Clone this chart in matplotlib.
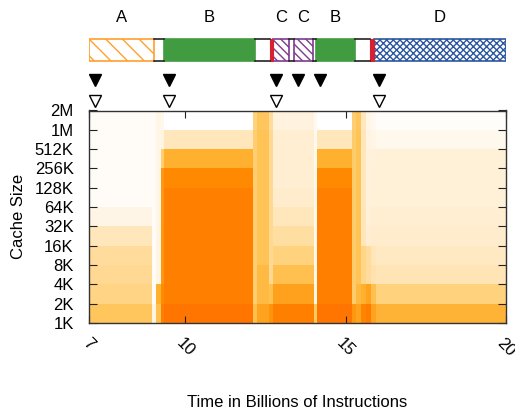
import numpy as np
import matplotlib
matplotlib.use("Agg")
import matplotlib.pyplot as plt
from matplotlib.colors import LinearSegmentedColormap
from matplotlib.patches import Rectangle

plt.rcParams['font.family'] = ['Liberation Sans', 'DejaVu Sans']
plt.rcParams['hatch.linewidth'] = 1.0

# cache sizes, bottom to top
size_labels = ['1K', '2K', '4K', '8K', '16K', '32K', '64K', '128K', '256K', '512K', '1M', '2M']

# phases shown in the strip above the heat map (billions of instructions)
phase_names = ['A', 'B', 'C', 'C', 'B', 'D']
phase_start = [7.0, 9.34, 12.75, 13.38, 14.09, 15.88]
phase_end = [9.03, 12.16, 13.25, 13.97, 15.28, 20.0]
red_start = [12.63, 15.75]
red_end = [12.75, 15.88]

filled_marks = [7.19, 9.5, 12.84, 13.5, 14.19, 16.03]
open_marks = [7.19, 9.5, 12.84, 16.03]

# relative miss intensity per cache size (1K .. 1M), one list per time slice
a_rows = [0.56, 0.46, 0.42, 0.40, 0.30, 0.13, 0.04, 0.04, 0.04, 0.04, 0.04]
b_rows = [0.95, 0.90, 0.90, 0.90, 0.90, 0.90, 0.90, 0.86, 0.70, 0.30, 0.00]
c_rows = [0.90, 0.76, 0.60, 0.48, 0.38, 0.30, 0.24, 0.22, 0.22, 0.22, 0.17]
d_rows = [0.68, 0.48, 0.32, 0.27, 0.24, 0.22, 0.20, 0.20, 0.20, 0.10, 0.03]

t1_rows = [0.15, 0.05, 0.05, 0.05, 0.05, 0.05, 0.05, 0.05, 0.05, 0.05, 0.05]
t2_rows = [0.60, 0.70, 0.14, 0.14, 0.14, 0.12, 0.12, 0.12, 0.12, 0.12, 0.12]
t3_rows = [0.90, 0.85, 0.80, 0.80, 0.80, 0.80, 0.80, 0.80, 0.50, 0.15, 0.10]
t4_rows = [0.60, 0.50, 0.50, 0.50, 0.50, 0.50, 0.50, 0.50, 0.50, 0.50, 0.48]
t5_rows = [0.75, 0.64, 0.64, 0.58, 0.58, 0.58, 0.58, 0.58, 0.58, 0.58, 0.56]
t6_rows = [0.82, 0.60, 0.42, 0.42, 0.42, 0.42, 0.42, 0.42, 0.42, 0.42, 0.40]
t7_rows = [0.55, 0.10, 0.10, 0.10, 0.10, 0.10, 0.10, 0.10, 0.10, 0.10, 0.08]
t8_rows = [0.80, 0.52, 0.52, 0.52, 0.52, 0.52, 0.52, 0.52, 0.52, 0.52, 0.50]
t9_rows = [0.75, 0.65, 0.58, 0.58, 0.58, 0.58, 0.58, 0.58, 0.58, 0.58, 0.56]
t10_rows = [0.88, 0.70, 0.45, 0.45, 0.30, 0.30, 0.30, 0.30, 0.30, 0.30, 0.28]
t11_rows = [0.92, 0.75, 0.40, 0.40, 0.22, 0.20, 0.18, 0.18, 0.18, 0.15, 0.12]
t12_rows = [0.75, 0.60, 0.34, 0.30, 0.24, 0.22, 0.20, 0.20, 0.18, 0.12, 0.08]

slice_edges = [7.0, 8.95, 9.1, 9.25, 9.35, 12.1, 12.25, 12.6, 12.75, 14.0, 14.1,
               15.2, 15.32, 15.47, 15.63, 15.78, 15.94, 20.0]
slices = [a_rows, t1_rows, t2_rows, t3_rows, b_rows, t4_rows, t5_rows, t6_rows,
          c_rows, t7_rows, b_rows, t8_rows, t9_rows, t10_rows, t11_rows, t12_rows, d_rows]

cmap = LinearSegmentedColormap.from_list('miss', [
    (0.0, '#ffffff'), (0.2, '#fff0d8'), (0.4, '#ffdc9c'), (0.55, '#ffc860'),
    (0.7, '#ffb030'), (0.85, '#ff8c00'), (1.0, '#ff6a00')])

W, H = 515, 412
fig = plt.figure(figsize=(W / 100, H / 100), dpi=100)

left_px, right_px, top_px, bottom_px = 89, 506, 110.5, 323
ax = fig.add_axes([left_px / W, 1 - bottom_px / H, (right_px - left_px) / W,
                   (bottom_px - top_px) / H])

Z = np.array(slices).T
ax.pcolormesh(slice_edges, np.arange(len(size_labels)), Z, cmap=cmap, vmin=0, vmax=1,
              shading='flat')
ax.set_xlim(7, 20)
ax.set_ylim(0, len(size_labels) - 1)
ax.set_xticks([7, 10, 15, 20])
ax.set_xticklabels(['7', '10', '15', '20'], rotation=-45, ha='center', fontsize=12)
ax.set_yticks(np.arange(len(size_labels)))
ax.set_yticklabels(size_labels, fontsize=12)
ax.tick_params(axis='x', direction='in', top=True, length=5, pad=9, color='#222222')
ax.tick_params(axis='y', direction='in', right=True, length=6, pad=11, color='#222222')
for s in ax.spines.values():
    s.set_color('#333333')
    s.set_linewidth(1.0)
ax.set_xlabel('Time in Billions of Instructions', fontsize=12, labelpad=26)
ax.set_ylabel('Cache Size', fontsize=12, labelpad=6)

# strip with phases and markers, y in pixels from figure top
ax_top = fig.add_axes([left_px / W, 1 - 110 / H, (right_px - left_px) / W, 110 / H])
ax_top.set_xlim(7, 20)
ax_top.set_ylim(110, 0)
ax_top.axis('off')

bar_y0, bar_y1 = 39, 61
styles = {
    'A': dict(facecolor='white', edgecolor='#ffa030', hatch='\\\\'),
    'B': dict(facecolor='#419b41', edgecolor='#419b41'),
    'C': dict(facecolor='white', edgecolor='#7d3b8f', hatch='\\\\\\\\'),
    'D': dict(facecolor='white', edgecolor='#2c57a0', hatch='xxxxx'),
}
# gaps between phases: white with dark rims
starts = sorted(phase_start + red_start)
ends = sorted(phase_end + red_end)
for e, s in zip(ends[:-1], starts[1:]):
    if s - e > 0.01:
        ax_top.plot([e, s], [bar_y0, bar_y0], color='#222222', lw=1.2)
        ax_top.plot([e, s], [bar_y1, bar_y1], color='#222222', lw=1.2)
for name, s, e in zip(phase_names, phase_start, phase_end):
    ax_top.add_patch(Rectangle((s, bar_y0), e - s, bar_y1 - bar_y0, lw=1.2, **styles[name]))
    ax_top.text((s + e) / 2, 17, name, ha='center', va='center', fontsize=12)
for s, e in zip(red_start, red_end):
    ax_top.add_patch(Rectangle((s, bar_y0), e - s, bar_y1 - bar_y0, facecolor='#d9202e',
                               edgecolor='#d9202e', lw=0.8))

ax_top.plot(filled_marks, [80] * len(filled_marks), 'v', color='black', ms=8, clip_on=False)
ax_top.plot(open_marks, [101] * len(open_marks), 'v', mfc='white', mec='black', mew=1,
            ms=8, clip_on=False)

fig.savefig('out.png', dpi=100)
